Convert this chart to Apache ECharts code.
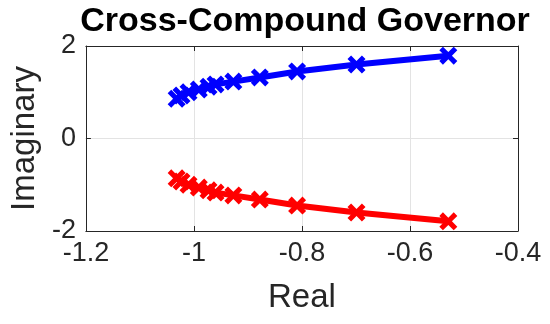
<!DOCTYPE html>
<html>
<head>
<meta charset="utf-8">
<title>Cross-Compound Governor</title>
<script src="https://cdn.jsdelivr.net/npm/echarts@6/dist/echarts.min.js"></script>
<style>
  html, body { margin: 0; padding: 0; background: #fff; }
  #chart { width: 550px; height: 324px; }
</style>
</head>
<body>
<div id="chart"></div>
<script>
// root locus points (upper branch); lower branch is the conjugate
var realPart = [-1.032, -1.023, -1.010, -0.991, -0.973, -0.960, -0.927, -0.878, -0.809, -0.699, -0.529];
var imagUpper = [0.86, 0.93, 1.00, 1.06, 1.12, 1.17, 1.23, 1.32, 1.45, 1.60, 1.79];
var imagLower = [-0.86, -0.93, -1.00, -1.06, -1.12, -1.17, -1.23, -1.32, -1.45, -1.60, -1.79];
var xTicks = [-1.2, -1, -0.8, -0.6, -0.4];
var yTicks = [-2, 0, 2];

var fontFam = 'Liberation Sans, Arial, sans-serif';
var axisCol = '#262626';
var crossMark = 'path://M0,2 L2,0 L5,3 L8,0 L10,2 L7,5 L10,8 L8,10 L5,7 L2,10 L0,8 L3,5 Z';

function pairs(xs, ys) {
    return xs.map(function (x, i) { return [x, ys[i]]; });
}

var chart = echarts.init(document.getElementById('chart'));

chart.setOption({
    animation: false,
    title: {
        text: 'Cross-Compound Governor',
        left: 300,
        top: 0,
        textAlign: 'center',
        textStyle: { fontFamily: fontFam, fontWeight: 'bold', fontSize: 34, color: '#000' }
    },
    grid: { left: 81, right: 32, top: 46, bottom: 93, show: false },
    xAxis: [{
        type: 'value',
        min: xTicks[0], max: xTicks[xTicks.length - 1], interval: 0.2,
        name: 'Real', nameLocation: 'middle', nameGap: 50,
        nameTextStyle: { fontFamily: fontFam, fontSize: 33, color: axisCol },
        axisLine: { show: true, onZero: false, lineStyle: { color: axisCol, width: 1 } },
        axisTick: { show: true, inside: true, length: 5, lineStyle: { color: axisCol } },
        axisLabel: { fontFamily: fontFam, fontSize: 27, color: axisCol, margin: 9 },
        splitLine: { show: true, lineStyle: { color: '#e3e3e3', width: 1 } }
    }, {
        type: 'value', position: 'top',
        min: xTicks[0], max: xTicks[xTicks.length - 1], interval: 0.2,
        axisLine: { show: true, onZero: false, lineStyle: { color: axisCol, width: 1 } },
        axisTick: { show: true, inside: true, length: 5, lineStyle: { color: axisCol } },
        axisLabel: { show: false },
        splitLine: { show: false }
    }],
    yAxis: [{
        type: 'value',
        min: yTicks[0], max: yTicks[yTicks.length - 1], interval: 2,
        name: 'Imaginary', nameLocation: 'middle', nameGap: 42,
        nameTextStyle: { fontFamily: fontFam, fontSize: 33, color: axisCol },
        axisLine: { show: true, onZero: false, lineStyle: { color: axisCol, width: 1 } },
        axisTick: { show: true, inside: true, length: 5, lineStyle: { color: axisCol } },
        axisLabel: { fontFamily: fontFam, fontSize: 27, color: axisCol, margin: 10 },
        splitLine: { show: true, lineStyle: { color: '#e3e3e3', width: 1 } }
    }, {
        type: 'value', position: 'right',
        min: yTicks[0], max: yTicks[yTicks.length - 1], interval: 2,
        axisLine: { show: true, onZero: false, lineStyle: { color: axisCol, width: 1 } },
        axisTick: { show: true, inside: true, length: 5, lineStyle: { color: axisCol } },
        axisLabel: { show: false },
        splitLine: { show: false }
    }],
    series: [{
        name: 'upper',
        type: 'line',
        data: pairs(realPart, imagUpper),
        symbol: crossMark,
        symbolSize: 18,
        showAllSymbol: true,
        lineStyle: { color: '#0000ff', width: 6 },
        itemStyle: { color: '#0000ff' }
    }, {
        name: 'lower',
        type: 'line',
        data: pairs(realPart, imagLower),
        symbol: crossMark,
        symbolSize: 18,
        showAllSymbol: true,
        lineStyle: { color: '#ff0000', width: 6 },
        itemStyle: { color: '#ff0000' }
    }]
});
</script>
</body>
</html>
